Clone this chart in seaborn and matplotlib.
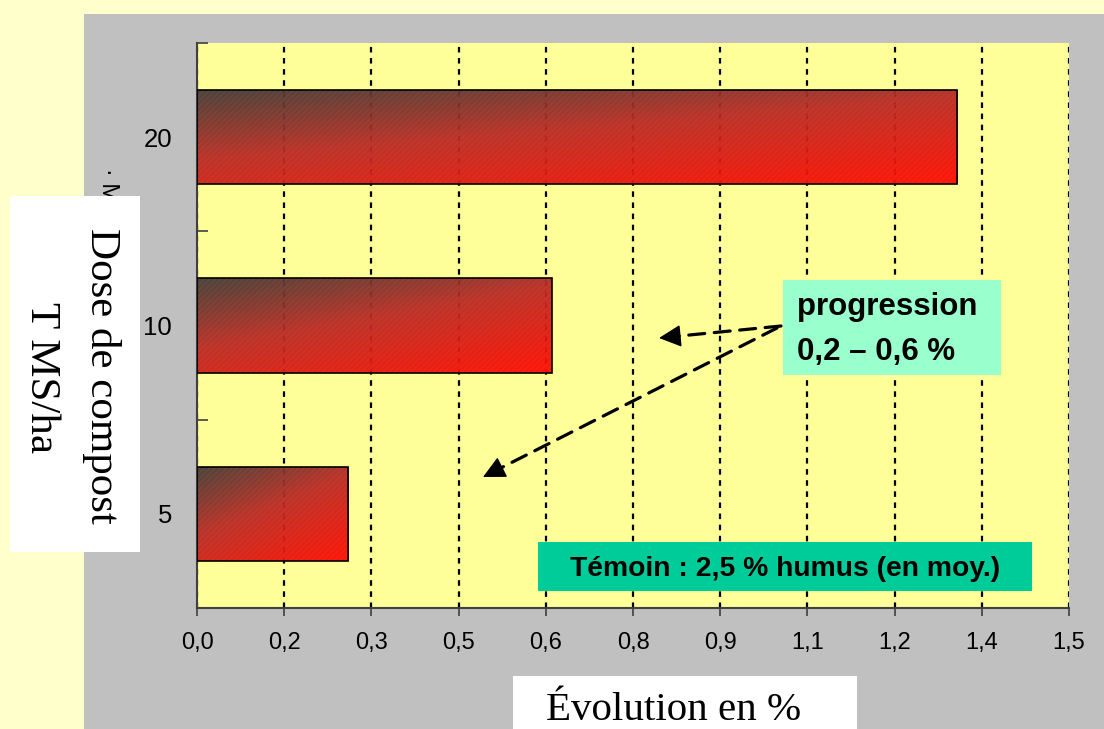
import matplotlib
matplotlib.use("Agg")
import matplotlib.pyplot as plt
import numpy as np
import pandas as pd
import seaborn as sns
from matplotlib.colors import LinearSegmentedColormap
from matplotlib.patches import Rectangle

# data
doses = ["20", "10", "5"]
evolution = [1.308, 0.610, 0.260]
xtick_values = [0.0, 0.15, 0.30, 0.45, 0.60, 0.75, 0.90, 1.05, 1.20, 1.35, 1.50]
xtick_labels = ["0,0", "0,2", "0,3", "0,5", "0,6", "0,8", "0,9", "1,1", "1,2", "1,4", "1,5"]

W, H = 1104, 729


def fx(px):
    return px / W


def fy(py):
    return 1 - py / H


sns.set_theme(style="white")
plt.rcParams["font.family"] = ["Liberation Sans", "DejaVu Sans"]
plt.rcParams["hatch.linewidth"] = 0.6

fig = plt.figure(figsize=(W / 100, H / 100), dpi=100, facecolor="#ffffcc")

# grey chart panel
fig.add_artist(Rectangle((fx(84), 0), 1 - fx(84), fy(14), transform=fig.transFigure,
                         facecolor="#c0c0c0", edgecolor="none", zorder=-5))

ax = fig.add_axes([fx(197), fy(608), fx(1069) - fx(197), fy(43) - fy(608)])
ax.set_facecolor("#ffff99")

df = pd.DataFrame({"dose": doses, "evolution": evolution})
sns.barplot(data=df, x="evolution", y="dose", order=doses, orient="h", width=0.5,
            color="#d02020", edgecolor="black", linewidth=1.2, ax=ax, zorder=3)

ax.set_xlim(0, 1.5)
ax.set_ylim(2.5, -0.5)

# dark-to-red diagonal gradient in each bar
cmap = LinearSegmentedColormap.from_list(
    "grad", [(0, "#3c3c38"), (0.45, "#b82a24"), (1, "#ff0a00")])
uu, vv = np.meshgrid(np.linspace(0, 1, 200), np.linspace(0, 1, 100))
grad = 0.4 * uu + 0.6 * vv
for bar in list(ax.patches):
    x0, y0 = bar.get_x(), bar.get_y()
    w, h = bar.get_width(), bar.get_height()
    bar.set_facecolor("none")
    im = ax.imshow(grad, cmap=cmap, extent=[x0, x0 + w, y0 + h, y0], origin="upper",
                   aspect="auto", zorder=2, alpha=0.95, interpolation="bilinear")
    im.set_clip_path(bar)
    ax.add_patch(Rectangle((x0, y0), w, h, fill=False, hatch="//////",
                           edgecolor=(1, 0.35, 0.35, 0.2), linewidth=0, zorder=2.5))
ax.set_xlim(0, 1.5)
ax.set_ylim(2.5, -0.5)

ax.set_xticks(xtick_values)
ax.set_xticklabels(xtick_labels)
ax.set_yticks(range(len(doses)))
ax.set_yticklabels(doses)
ax.set_yticks([-0.5, 0.5, 1.5, 2.5], minor=True)
ax.set_xlabel("")
ax.set_ylabel("")

ax.xaxis.grid(True, color="black", linestyle=(0, (2.5, 2.5)), linewidth=1.6, zorder=1)
ax.yaxis.grid(False)
ax.set_axisbelow(True)

for s in ["top", "right"]:
    ax.spines[s].set_visible(False)
for s in ["left", "bottom"]:
    ax.spines[s].set_color("#404040")
    ax.spines[s].set_linewidth(1.5)

ax.tick_params(axis="x", direction="out", length=6, width=1.2, color="#404040",
               pad=11, labelsize=17, labelcolor="black", bottom=True)
ax.tick_params(axis="y", which="major", length=0, pad=18, labelsize=18.5, labelcolor="black")
ax.tick_params(axis="y", which="minor", direction="in", length=8, width=1.2,
               color="#404040", left=True)


# dashed arrows from the annotation box: dashed shaft + solid head
def dashed_arrow(start, tip):
    ax.annotate("", xy=tip, xycoords="figure fraction", xytext=start,
                textcoords="figure fraction",
                arrowprops=dict(arrowstyle="-", linestyle=(0, (5, 3)), lw=2.3,
                                color="black", shrinkA=0, shrinkB=8))
    near = (tip[0] + 0.02 * (start[0] - tip[0]), tip[1] + 0.02 * (start[1] - tip[1]))
    ax.annotate("", xy=tip, xycoords="figure fraction", xytext=near,
                textcoords="figure fraction",
                arrowprops=dict(arrowstyle="-|>,head_length=0.7,head_width=0.35",
                                lw=1, color="black", mutation_scale=20,
                                shrinkA=0, shrinkB=0))


dashed_arrow((fx(781), fy(326)), (fx(659), fy(338)))
dashed_arrow((fx(777), fy(328)), (fx(483), fy(477)))

# annotation boxes
fig.add_artist(Rectangle((fx(783), fy(375)), fx(1001) - fx(783), fy(280) - fy(375),
                         transform=fig.transFigure, facecolor="#99ffcc", edgecolor="none", zorder=5))
fig.text(fx(797), fy(315), "progression", fontsize=22.5, fontweight="bold",
         ha="left", va="baseline", color="black", zorder=6)
fig.text(fx(797), fy(360), "0,2 \u2013 0,6 %", fontsize=22.5, fontweight="bold",
         ha="left", va="baseline", color="black", zorder=6)

fig.add_artist(Rectangle((fx(538), fy(591)), fx(1032) - fx(538), fy(542) - fy(591),
                         transform=fig.transFigure, facecolor="#00cc99", edgecolor="none", zorder=5))
fig.text(fx(785), fy(576), "Témoin : 2,5 % humus (en moy.)", fontsize=20.3, fontweight="bold",
         ha="center", va="baseline", color="black", zorder=6)

# leftover of hidden axis title
fig.text(fx(108), fy(185), "· M", fontsize=17, rotation=270, ha="center", va="center",
         color="black", zorder=0)

# axis titles in white boxes
fig.add_artist(Rectangle((fx(10), fy(552)), fx(140) - fx(10), fy(196) - fy(552),
                         transform=fig.transFigure, facecolor="white", edgecolor="none", zorder=5))
fig.text(fx(101), fy(376), "Dose de compost", fontsize=31, family="Liberation Serif",
         rotation=270, ha="center", va="center", color="black", zorder=6)
fig.text(fx(41), fy(378), "T MS/ha", fontsize=31, family="Liberation Serif",
         rotation=270, ha="center", va="center", color="black", zorder=6)

fig.add_artist(Rectangle((fx(513), 0), fx(857) - fx(513), fy(676),
                         transform=fig.transFigure, facecolor="white", edgecolor="none", zorder=5))
fig.text(fx(674), fy(720), "Évolution en %", fontsize=29.5, family="Liberation Serif",
         ha="center", va="baseline", color="black", zorder=6)

fig.savefig("out.png", dpi=100, facecolor=fig.get_facecolor())
